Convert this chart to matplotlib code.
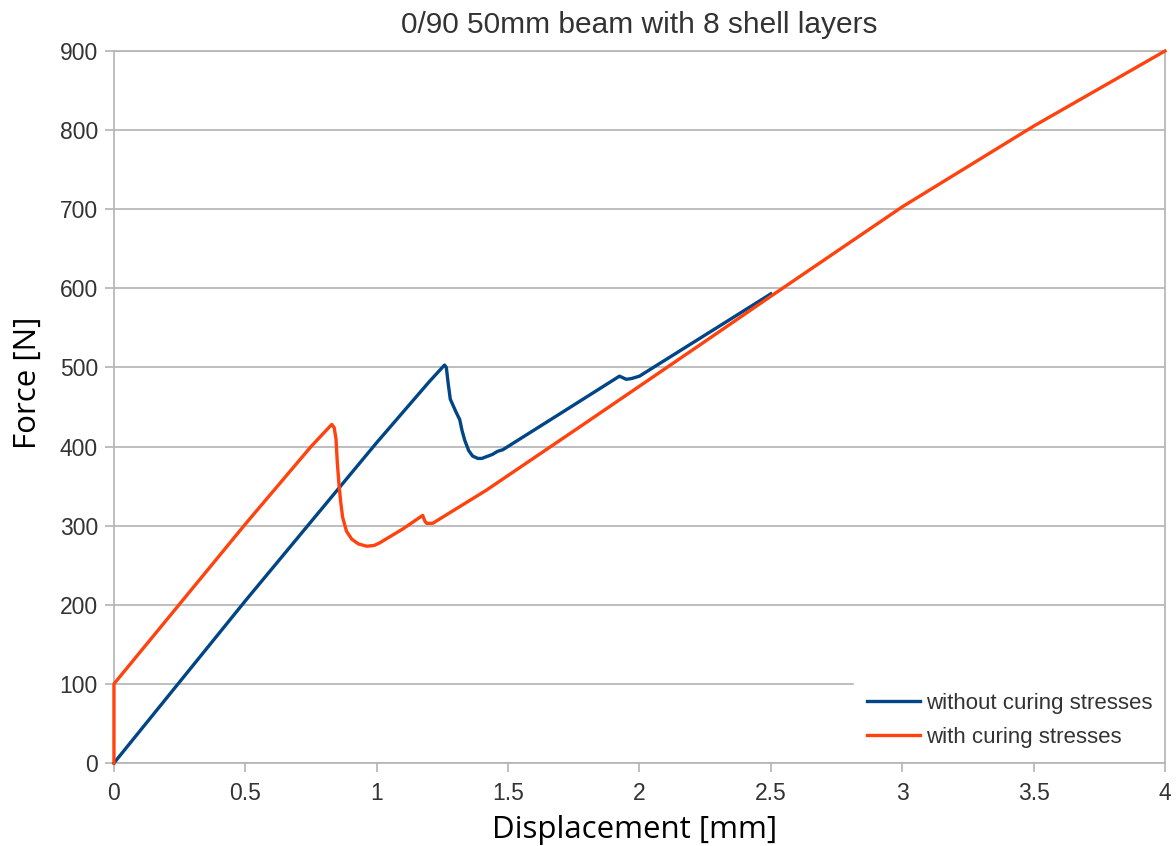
import matplotlib
matplotlib.use("Agg")
import matplotlib.pyplot as plt

# without curing stresses
x_without = [0.0, 0.5, 1.0, 1.2, 1.258, 1.265, 1.272, 1.28, 1.30, 1.316, 1.325, 1.335, 1.35, 1.365, 1.385,
             1.40, 1.44, 1.46, 1.48, 1.70, 1.924, 1.95, 1.97, 2.0, 2.25, 2.5]
y_without = [0.0, 205, 405, 482, 503, 500, 480, 460, 445, 434, 420, 408, 395, 388, 385,
             385, 390, 394, 396, 442, 489, 485, 486, 489, 541, 593]

# with curing stresses
x_with = [0.0, 0.0, 0.25, 0.5, 0.75, 0.829, 0.838, 0.845, 0.85, 0.856, 0.863, 0.87, 0.885, 0.905, 0.93,
          0.962, 0.99, 1.01, 1.10, 1.175, 1.183, 1.19, 1.213, 1.418, 1.8, 2.228, 2.5, 3.0, 3.5, 4.0]
y_with = [0.0, 100, 201, 302, 400, 428, 424, 410, 380, 354, 330, 311, 293, 283, 277,
          274, 275, 278, 296, 313, 306, 303, 303, 345, 431, 528, 590, 703, 805, 900]

label_without = "without curing stresses"
label_with = "with curing stresses"
title = "0/90 50mm beam with 8 shell layers"
xlabel = "Displacement [mm]"
ylabel = "Force [N]"
xticks = [0, 0.5, 1, 1.5, 2, 2.5, 3, 3.5, 4]
xticklabels = ["0", "0.5", "1", "1.5", "2", "2.5", "3", "3.5", "4"]
yticks = [0, 100, 200, 300, 400, 500, 600, 700, 800, 900]

plt.rcParams['font.family'] = ['Liberation Sans', 'DejaVu Sans']

fig = plt.figure(figsize=(11.76, 8.46), dpi=100)
ax = fig.add_axes([0.0969, 0.0981, 0.8937, 0.8416])

ax.plot(x_without, y_without, color="#004586", lw=2.4, label=label_without,
        solid_joinstyle="round", zorder=3, clip_on=False)
ax.plot(x_with, y_with, color="#ff420e", lw=2.4, label=label_with,
        solid_joinstyle="round", zorder=3, clip_on=False)

ax.set_xlim(0, 4)
ax.set_ylim(0, 900)
ax.set_xticks(xticks)
ax.set_xticklabels(xticklabels)
ax.set_yticks(yticks)
ax.grid(axis="y", color="#b3b3b3", lw=1.2)
ax.set_axisbelow(True)
for s in ax.spines.values():
    s.set_color("#b3b3b3")
    s.set_linewidth(1.2)
ax.tick_params(axis="both", colors="#b3b3b3", labelcolor="#333333", labelsize=16.5, length=6.5, width=1.2)
ax.tick_params(axis="x", pad=7)
ax.tick_params(axis="y", pad=5)

ax.set_title(title, fontsize=21.5, color="#333333", pad=13)
fig.text(635 / 1176, 1 - 838 / 846, xlabel, fontsize=22.5, family=["Open Sans", "DejaVu Sans"],
         ha="center", va="baseline", color="black")
fig.text(28 / 1176, 1 - 383 / 846, ylabel, fontsize=22.5, family=["Open Sans", "DejaVu Sans"],
         ha="center", va="center", rotation=90, color="black")

leg = ax.legend(loc="upper left", frameon=True, fontsize=16, handlelength=2.39, handletextpad=0.27,
                labelspacing=0.6, borderpad=0.6, fancybox=False, edgecolor="white", framealpha=1.0,
                bbox_to_anchor=(0.7038, 0.1176), borderaxespad=0)
leg.set_zorder(2.4)
for t in leg.get_texts():
    t.set_color("#333333")

fig.savefig("out.png", dpi=100)
